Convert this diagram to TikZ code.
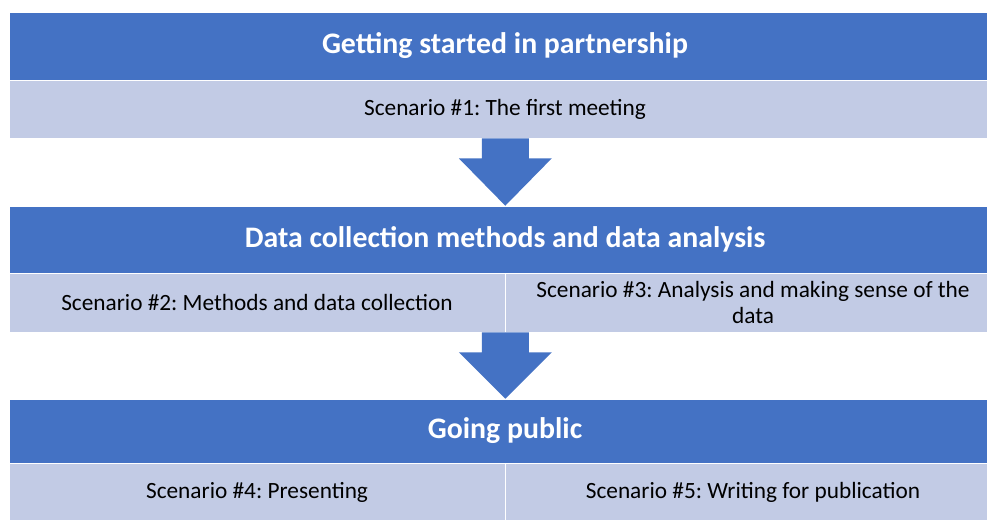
\documentclass[tikz,border=0pt]{standalone}
\usepackage{fontspec}
\setmainfont{Carlito}
\usetikzlibrary{calc}
\definecolor{hdrblue}{RGB}{68,114,196}
\definecolor{rowblue}{RGB}{194,203,229}
\tikzset{
  hdr/.style={rectangle, fill=hdrblue, draw=white, line width=0.6pt, minimum width=992pt, inner sep=0pt,
    text=white, font=\fontsize{29.8}{34}\selectfont\bfseries\frenchspacing},
  cell/.style={rectangle, fill=rowblue, draw=white, line width=0.6pt, inner sep=0pt,
    text=black, font=\fontsize{23.3}{26}\selectfont\frenchspacing, align=center},
  blockarrow/.style={fill=hdrblue}
}
\begin{document}
\begin{tikzpicture}[x=1pt,y=-1pt]
\useasboundingbox (0,0) rectangle (987,519);
\fill[white] (0,0) rectangle (987,519);
% row 1
\node[hdr, minimum height=68pt] (h1) at (505,46) {Getting started in partnership};
\node[cell, minimum width=992pt, minimum height=58pt] (r1) at (505,109) {Scenario \#1: The first meeting};
% row 2
\node[hdr, minimum height=67pt] (h2) at (505,239.5) {Data collection methods and data analysis};
\node[cell, minimum width=496pt, minimum height=59pt] (r2a) at (257,302.5) {Scenario \#2: Methods and data collection};
\node[cell, minimum width=496pt, minimum height=59pt] (r2b) at (753,302.5) {Scenario \#3: Analysis and making sense of the\\data};
% row 3
\node[hdr, minimum height=64pt] (h3) at (505,431) {Going public};
\node[cell, minimum width=496pt, minimum height=59pt] (r3a) at (257,492.5) {Scenario \#4: Presenting};
\node[cell, minimum width=496pt, minimum height=59pt] (r3b) at (753,492.5) {Scenario \#5: Writing for publication};
% arrows
\coordinate (a1s) at (r2a.north east |- r1.south);
\coordinate (a1t) at (r2a.north east |- h2.north);
\coordinate (a2s) at (r2a.south east);
\coordinate (a2t) at (r2a.south east |- h3.north);
\fill[blockarrow] ($(a1s)+(-23.5,0)$) -- ($(a1s)+(23.5,0)$) -- ($(a1s)+(23.5,20)$) -- ($(a1s)+(46.5,20)$)
  -- (a1t) -- ($(a1s)+(-46.5,20)$) -- ($(a1s)+(-23.5,20)$) -- cycle;
\fill[blockarrow] ($(a2s)+(-23.5,0)$) -- ($(a2s)+(23.5,0)$) -- ($(a2s)+(23.5,20)$) -- ($(a2s)+(46.5,20)$)
  -- (a2t) -- ($(a2s)+(-46.5,20)$) -- ($(a2s)+(-23.5,20)$) -- cycle;
\end{tikzpicture}
\end{document}
